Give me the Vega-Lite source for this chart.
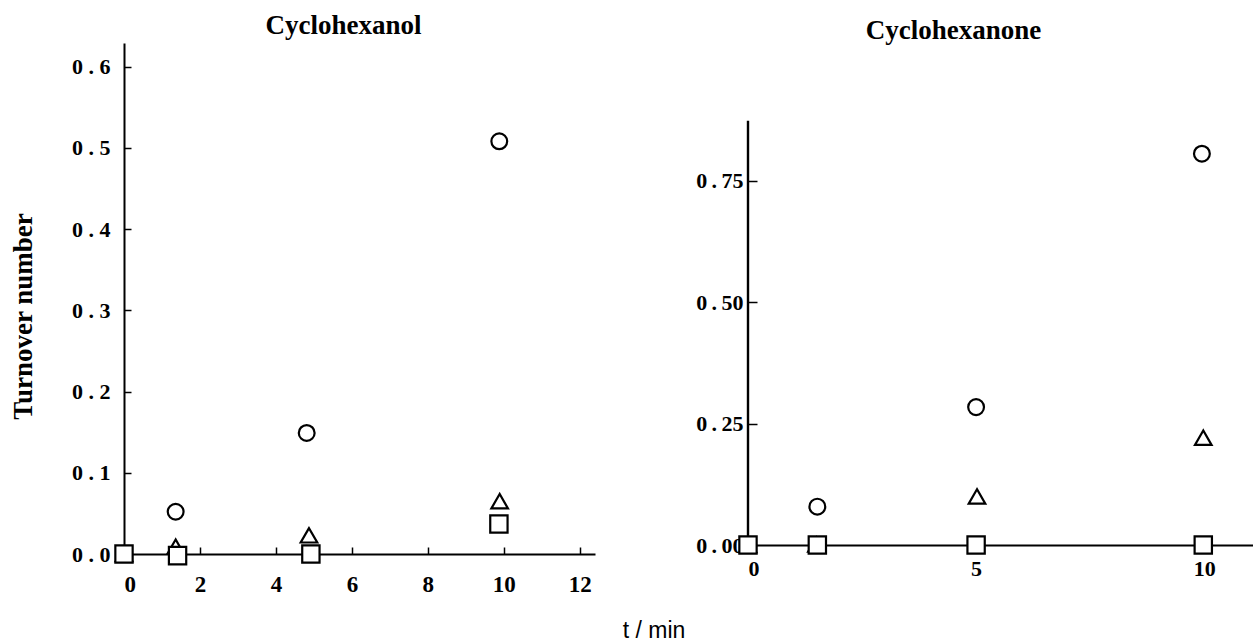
{
  "$schema": "https://vega.github.io/schema/vega-lite/v6.json",
  "background": "white",
  "padding": {"left": 9, "top": 12, "right": 0, "bottom": 0},
  "datasets": {
    "anol": [
      {"t": 0, "tn": 0, "series": "A"},
      {"t": 0, "tn": 0, "series": "B"},
      {"t": 0, "tn": 0, "series": "C"},
      {"t": 1.36, "tn": 0.052, "series": "A"},
      {"t": 1.36, "tn": 0.009, "series": "B"},
      {"t": 1.41, "tn": -0.002, "series": "C"},
      {"t": 4.81, "tn": 0.149, "series": "A"},
      {"t": 4.87, "tn": 0.023, "series": "B"},
      {"t": 4.92, "tn": 0.0, "series": "C"},
      {"t": 9.88, "tn": 0.508, "series": "A"},
      {"t": 9.89, "tn": 0.065, "series": "B"},
      {"t": 9.87, "tn": 0.037, "series": "C"}
    ],
    "anone": [
      {"t": 0, "tn": 0, "series": "A"},
      {"t": 0, "tn": 0, "series": "B"},
      {"t": 0, "tn": 0, "series": "C"},
      {"t": 1.52, "tn": 0.079, "series": "A"},
      {"t": 1.5, "tn": 0.001, "series": "B"},
      {"t": 1.52, "tn": 0.0, "series": "C"},
      {"t": 5.0, "tn": 0.284, "series": "A"},
      {"t": 5.02, "tn": 0.1, "series": "B"},
      {"t": 5.0, "tn": 0.0, "series": "C"},
      {"t": 9.95, "tn": 0.806, "series": "A"},
      {"t": 9.98, "tn": 0.221, "series": "B"},
      {"t": 9.98, "tn": 0.0, "series": "C"}
    ],
    "axisline": [{"t": 0, "tn": 0, "top": 0.874}]
  },
  "title": {
    "text": "t / min",
    "orient": "bottom",
    "anchor": "middle",
    "frame": "bounds",
    "font": "Liberation Sans",
    "fontSize": 23,
    "fontWeight": "normal",
    "color": "black",
    "baseline": "alphabetic",
    "offset": 42,
    "dx": 23
  },
  "bounds": "flush",
  "spacing": 153,
  "hconcat": [
    {
      "width": 471,
      "height": 511,
      "data": {"name": "anol"},
      "title": {
        "text": "Cyclohexanol",
        "anchor": "middle",
        "dx": -16,
        "offset": -18,
        "baseline": "alphabetic",
        "font": "Liberation Serif",
        "fontSize": 27,
        "fontWeight": "bold",
        "color": "black"
      },
      "mark": {"type": "point", "filled": true, "fill": "white", "stroke": "black", "strokeWidth": 2.2, "opacity": 1},
      "encoding": {
        "x": {
          "field": "t",
          "type": "quantitative",
          "scale": {"domain": [0, 12.4], "nice": false, "zero": false},
          "axis": {"values": [0, 2, 4, 6, 8, 10, 12], "title": null, "tickSize": -7, "labelPadding": 26, "labelFontSize": 23}
        },
        "y": {
          "field": "tn",
          "type": "quantitative",
          "scale": {"domain": [0, 0.629], "nice": false, "zero": false},
          "axis": {
            "values": [0, 0.1, 0.2, 0.3, 0.4, 0.5, 0.6],
            "format": ".1f",
            "labelExpr": "replace(datum.label, '.', ' . ')",
            "title": "Turnover number",
            "tickSize": -7,
            "labelPadding": 21,
            "titleBaseline": "alphabetic",
            "titleAlign": "center",
            "titleX": -93,
            "titleY": 273
          }
        },
        "shape": {"field": "series", "type": "nominal", "scale": {"domain": ["A", "B", "C"], "range": ["circle", "triangle-up", "square"]}, "legend": null},
        "size": {"field": "series", "type": "nominal", "scale": {"domain": ["A", "B", "C"], "range": [250, 300, 240]}, "legend": null}
      }
    },
    {
      "width": 505,
      "height": 502,
      "title": {
        "text": "Cyclohexanone",
        "anchor": "middle",
        "dx": -47,
        "offset": -23,
        "baseline": "alphabetic",
        "font": "Liberation Serif",
        "fontSize": 27,
        "fontWeight": "bold",
        "color": "black"
      },
      "encoding": {
        "x": {
          "field": "t",
          "type": "quantitative",
          "scale": {"domain": [0, 11.07], "nice": false, "zero": false},
          "axis": {"values": [0, 5, 10], "title": null, "ticks": false, "labelPadding": 13}
        },
        "y": {
          "field": "tn",
          "type": "quantitative",
          "scale": {"domain": [0, 1.034], "nice": false, "zero": false},
          "axis": {
            "values": [0, 0.25, 0.5, 0.75],
            "format": ".2f",
            "labelExpr": "replace(datum.label, '.', '\u2009.\u2009')",
            "title": null,
            "domain": false,
            "tickSize": -9,
            "labelPadding": 14
          }
        }
      },
      "layer": [
        {
          "data": {"name": "axisline"},
          "mark": {"type": "rule", "color": "black", "strokeWidth": 2.4},
          "encoding": {
            "y2": {"field": "top"}
          }
        },
        {
          "data": {"name": "anone"},
          "mark": {"type": "point", "filled": true, "fill": "white", "stroke": "black", "strokeWidth": 2.2, "opacity": 1},
          "encoding": {
            "shape": {"field": "series", "type": "nominal", "scale": {"domain": ["A", "B", "C"], "range": ["circle", "triangle-up", "square"]}, "legend": null},
            "size": {"field": "series", "type": "nominal", "scale": {"domain": ["A", "B", "C"], "range": [250, 300, 240]}, "legend": null}
          }
        }
      ]
    }
  ],
  "config": {
    "view": {"stroke": null},
    "axis": {
      "grid": false,
      "domainColor": "black",
      "domainWidth": 2,
      "tickColor": "black",
      "tickWidth": 1.5,
      "labelFont": "Liberation Serif",
      "labelFontWeight": "bold",
      "labelFontSize": 22,
      "labelColor": "black",
      "titleFont": "Liberation Serif",
      "titleFontSize": 27,
      "titleFontWeight": "bold",
      "titleColor": "black"
    }
  }
}
